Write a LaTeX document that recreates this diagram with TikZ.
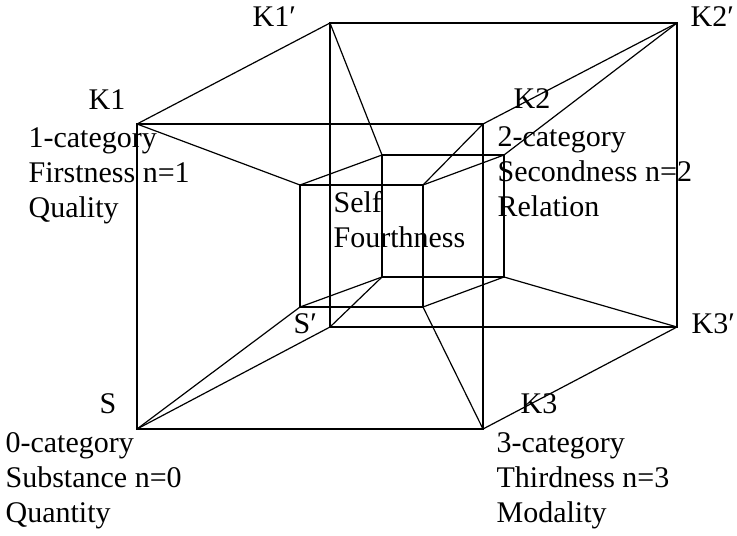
\documentclass[tikz,border=0pt]{standalone}
\usepackage{fontspec}
\setmainfont{Liberation Serif}
\tikzset{
  vlabel/.style={inner sep=0pt, anchor=base west, font=\fontsize{15}{17.5}\selectfont},
  vblock/.style={vlabel, align=left},
}
\begin{document}
\begin{tikzpicture}[x=0.5pt,y=-0.5pt,line width=0.6pt]
\useasboundingbox (0,0) rectangle (737,535);
\coordinate (S) at (137,429);
\coordinate (K1) at (137,124);
\coordinate (K2) at (483,124);
\coordinate (K3) at (483,429);
\coordinate (Sp) at (330,327);
\coordinate (K1p) at (330,23);
\coordinate (K2p) at (677,23);
\coordinate (K3p) at (677,327);
\coordinate (Ss) at (300,307);
\coordinate (K1s) at (300,185);
\coordinate (K2s) at (423,185);
\coordinate (K3s) at (423,307);
\coordinate (Sf) at (382,277);
\coordinate (K1f) at (382,155);
\coordinate (K2f) at (504,155);
\coordinate (K3f) at (504,277);
\draw (S) -- (K1) -- (K2) -- (K3) -- cycle;
\draw (Sp) -- (K1p) -- (K2p) -- (K3p) -- cycle;
\draw (Ss) -- (K1s) -- (K2s) -- (K3s) -- cycle;
\draw (Sf) -- (K1f) -- (K2f) -- (K3f) -- cycle;
\draw (S) -- (Sp) (K1) -- (K1p) (K2) -- (K2p) (K3) -- (K3p);
\draw (S) -- (Ss) (K1) -- (K1s) (K2) -- (K2s) (K3) -- (K3s);
\draw (Sp) -- (Sf) (K1p) -- (K1f) (K2p) -- (K2f) (K3p) -- (K3f);
\draw (Ss) -- (Sf) (K1s) -- (K1f) (K2s) -- (K2f) (K3s) -- (K3f);
\node[vlabel] (lS) at (99,413) {S};
\node[vlabel] (lK1) at (88,109) {K1};
\node[vlabel] (lK2) at (513,108) {K2};
\node[vlabel] (lK3) at (520,413) {K3};
\node[vlabel] (lSp) at (293,333) {S′};
\node[vlabel] (lK1p) at (252,27) {K1′};
\node[vlabel] (lK2p) at (690,27) {K2′};
\node[vlabel] (lK3p) at (691,333) {K3′};
\node[vblock] (bS) at (5,522) {0-category\\Substance n=0\\Quantity};
\node[vblock] (bK1) at (28,217) {1-category\\Firstness n=1\\Quality};
\node[vblock] (bK2) at (497,216) {2-category\\Secondness n=2\\Relation};
\node[vblock] (bK3) at (496,522) {3-category\\Thirdness n=3\\Modality};
\node[vblock] (bSelf) at (333,247) {Self\\Fourthness};
\end{tikzpicture}
\end{document}
